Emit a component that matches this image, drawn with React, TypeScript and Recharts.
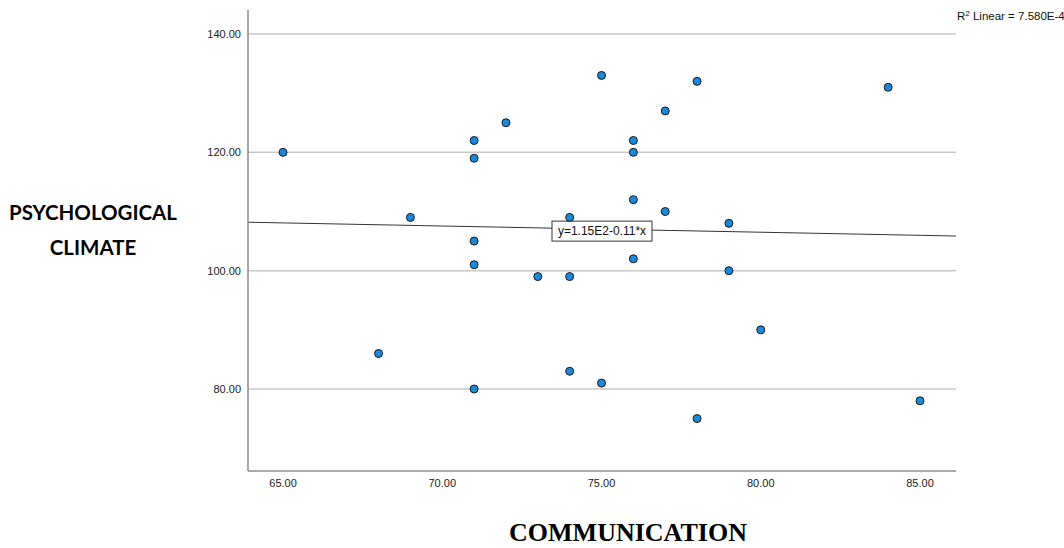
import { ScatterChart, Scatter, XAxis, YAxis, ReferenceLine } from 'recharts'

// COMMUNICATION (x) vs PSYCHOLOGICAL CLIMATE (y)
const communication = [65, 68, 69, 71, 71, 71, 71, 71, 72, 73, 74, 74, 74, 75, 75, 76, 76, 76, 76, 77, 77, 78, 78, 79, 79, 80, 84, 85]
const climate = [120, 86, 109, 122, 119, 105, 101, 80, 125, 99, 109, 99, 83, 133, 81, 122, 120, 112, 102, 127, 110, 132, 75, 108, 100, 90, 131, 78]

const xTicks = [65, 70, 75, 80, 85]
const yTicks = [80, 100, 120, 140]
const xDomain: [number, number] = [63.9, 86.13]
const yDomain: [number, number] = [66.14, 144.06]

// fit line as printed by SPSS
const intercept = 114.9
const slope = -0.105
const fitLabel = 'y=1.15E2-0.11*x'
const r2Label = '7.580E-4'

const points = communication.map((x, i) => ({ x, y: climate[i] }))
const fitLine = xDomain.map((x) => ({ x, y: intercept + slope * x }))

const tickStyle = { fontSize: 11, fill: '#222', fontFamily: 'Liberation Sans, Arial, sans-serif' }

function Dot(props: any) {
  const { cx, cy } = props
  return <circle cx={cx} cy={cy} r={4} fill="#1b88d8" stroke="#1a1a1a" strokeWidth={1} />
}

function FitLabel(props: any) {
  const vb = props.viewBox || {}
  const cx = vb.x + vb.width / 2
  const cy = vb.y + vb.height / 2
  const w = 100
  const h = 20
  return (
    <g>
      <rect x={cx - w / 2} y={cy - h / 2 + 2} width={w} height={h} fill="#fff" stroke="#333" strokeWidth={1} />
      <text x={cx} y={cy + 6} textAnchor="middle" fontSize={12} fill="#111" fontFamily="Liberation Sans, Arial, sans-serif">
        {fitLabel}
      </text>
    </g>
  )
}

export default function App() {
  return (
    <div style={{ position: 'absolute', left: 0, top: 0, width: 1064, height: 548, background: '#fff' }}>
      <ScatterChart width={1064} height={548} margin={{ top: 10, right: 108, bottom: 47, left: 188 }}>
        <XAxis
          type="number"
          dataKey="x"
          domain={xDomain}
          ticks={xTicks}
          allowDataOverflow
          height={30}
          tickLine={false}
          tickSize={6}
          tickMargin={2}
          axisLine={{ stroke: '#8c8c8c', strokeWidth: 1.5 }}
          tick={tickStyle}
          tickFormatter={(v) => Number(v).toFixed(2)}
        />
        <YAxis
          type="number"
          dataKey="y"
          domain={yDomain}
          ticks={yTicks}
          allowDataOverflow
          width={60}
          tickLine={false}
          tickSize={5}
          tickMargin={2}
          axisLine={{ stroke: '#8c8c8c', strokeWidth: 1.5 }}
          tick={tickStyle}
          tickFormatter={(v) => Number(v).toFixed(2)}
        />
        {yTicks.map((t) => (
          <ReferenceLine key={t} y={t} stroke="#c8c8c8" strokeWidth={1.5} />
        ))}
        <ReferenceLine
          segment={fitLine}
          stroke="#333"
          strokeWidth={1}
          ifOverflow="visible"
          label={<FitLabel />}
        />
        <Scatter data={points} shape={<Dot />} isAnimationActive={false} />
      </ScatterChart>

      <div style={{ position: 'absolute', left: 957, top: 10, fontSize: 11.5, fontFamily: 'Liberation Sans, Arial, sans-serif', color: '#111', whiteSpace: 'nowrap' }}>
        R<sup style={{ fontSize: 8, verticalAlign: 'top', lineHeight: 1 }}>2</sup> Linear = {r2Label}
      </div>

      <div style={{ position: 'absolute', left: 0, top: 195, width: 186, textAlign: 'center', fontSize: 20.5, fontWeight: 'bold', lineHeight: '35px', fontFamily: 'Lato, "Open Sans", sans-serif', color: '#000' }}>
        PSYCHOLOGICAL
        <br />
        CLIMATE
      </div>

      <div style={{ position: 'absolute', left: 428, top: 518, width: 400, textAlign: 'center', fontSize: 26, fontWeight: 'bold', fontFamily: '"Liberation Serif", "Times New Roman", serif', color: '#000' }}>
        COMMUNICATION
      </div>
    </div>
  )
}
